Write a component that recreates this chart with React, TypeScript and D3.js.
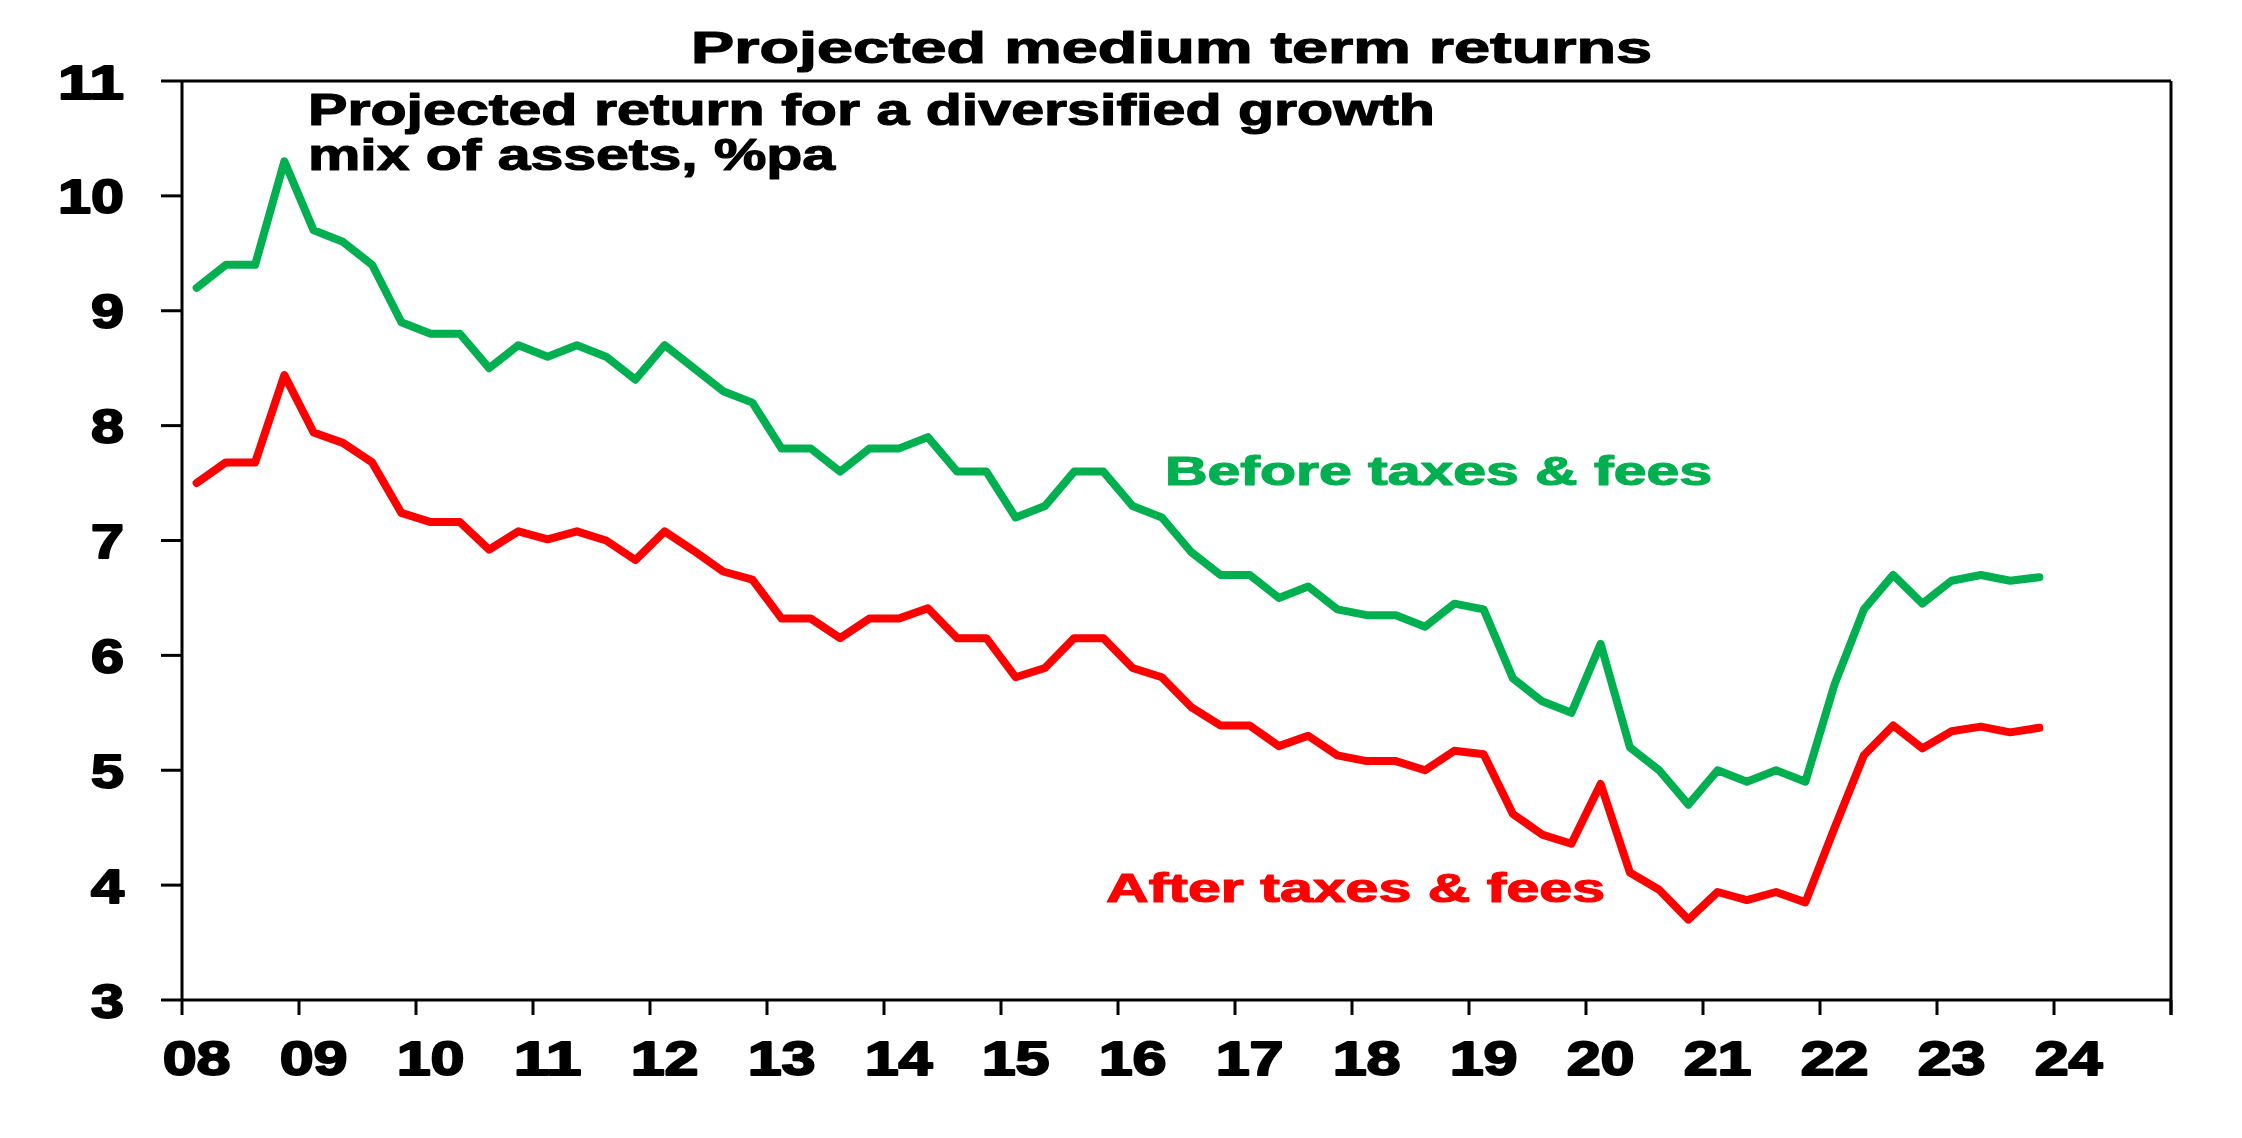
import React from "react";
import * as d3 from "d3";

const WIDTH = 2242;
const HEIGHT = 1138;

// Years shown on the category axis (4 quarters each; 2024 has no data yet)
const years = ["08", "09", "10", "11", "12", "13", "14", "15", "16", "17", "18", "19", "20", "21", "22", "23", "24"];
const quarterNames = ["Mar", "Jun", "Sep", "Dec"];
const categories: string[] = years.flatMap((y) => quarterNames.map((q) => `${q}-${y}`));

const beforeTaxes = [
  9.2, 9.4, 9.4, 10.3, 9.7, 9.6, 9.4, 8.9, 8.8, 8.8,
  8.5, 8.7, 8.6, 8.7, 8.6, 8.4, 8.7, 8.5, 8.3, 8.2,
  7.8, 7.8, 7.6, 7.8, 7.8, 7.9, 7.6, 7.6, 7.2, 7.3,
  7.6, 7.6, 7.3, 7.2, 6.9, 6.7, 6.7, 6.5, 6.6, 6.4,
  6.35, 6.35, 6.25, 6.45, 6.4, 5.8, 5.6, 5.5, 6.1, 5.2,
  5.0, 4.7, 5.0, 4.9, 5.0, 4.9, 5.75, 6.4, 6.7, 6.45,
  6.65, 6.7, 6.65, 6.68,
];

const afterTaxes = [
  7.5, 7.68, 7.68, 8.44, 7.94, 7.85, 7.68, 7.24, 7.16, 7.16,
  6.92, 7.08, 7.01, 7.08, 7.0, 6.83, 7.08, 6.91, 6.73, 6.66,
  6.32, 6.32, 6.15, 6.32, 6.32, 6.41, 6.15, 6.15, 5.81, 5.89,
  6.15, 6.15, 5.89, 5.81, 5.55, 5.39, 5.39, 5.21, 5.3, 5.13,
  5.08, 5.08, 5.0, 5.17, 5.14, 4.62, 4.44, 4.36, 4.88, 4.11,
  3.96, 3.7, 3.94, 3.87, 3.94, 3.85, 4.5, 5.13, 5.39, 5.19,
  5.34, 5.38, 5.33, 5.37,
];

const yTicks = [3, 4, 5, 6, 7, 8, 9, 10, 11];

const TITLE = "Projected medium term returns";
const SUBTITLE_1 = "Projected return for a diversified growth";
const SUBTITLE_2 = "mix of assets, %pa";
const LABEL_BEFORE = "Before taxes & fees";
const LABEL_AFTER = "After taxes & fees";

const GREEN = "#00B050";
const RED = "#FF0000";
const FONT = "'Liberation Sans', Arial, Helvetica, sans-serif";

const M = { left: 182, right: 2171, top: 81, bottom: 1000 };

function StretchText(props: {
  x: number; y: number; w: number; size: number; fill?: string; heavy?: number; children: string;
}) {
  const { x, y, w, size, fill = "#000", heavy = 1.2, children } = props;
  return (
    <text
      x={x}
      y={y}
      textLength={w}
      lengthAdjust="spacingAndGlyphs"
      fontFamily={FONT}
      fontWeight="bold"
      fontSize={size}
      fill={fill}
      stroke={fill}
      strokeWidth={heavy}
      strokeLinejoin="round"
    >
      {children}
    </text>
  );
}

export default function App() {
  const x = d3
    .scaleBand<number>()
    .domain(d3.range(categories.length))
    .range([M.left, M.right])
    .paddingInner(0)
    .paddingOuter(0);
  const bw = x.bandwidth();
  const cx = (i: number) => (x(i) as number) + bw / 2;

  const y = d3.scaleLinear().domain([3, 11]).range([M.bottom, M.top]);

  const line = d3
    .line<number>()
    .x((_, i) => cx(i))
    .y((d) => y(d));

  const tickBoundaries = d3.range(0, categories.length + 1, 4);

  return (
    <svg
      width={WIDTH}
      height={HEIGHT}
      viewBox={`0 0 ${WIDTH} ${HEIGHT}`}
      style={{ position: "absolute", left: 0, top: 0, background: "#fff" }}
    >
      <rect x={0} y={0} width={WIDTH} height={HEIGHT} fill="#fff" />

      {/* Title */}
      <StretchText x={691} y={63} w={961} size={44}>{TITLE}</StretchText>

      {/* Plot border (right) */}
      <line x1={M.right} x2={M.right} y1={M.top} y2={M.bottom + 15} stroke="#000" strokeWidth={3} />

      {/* Y axis */}
      <line x1={M.left} x2={M.left} y1={M.top} y2={M.bottom} stroke="#000" strokeWidth={3} />
      {yTicks.map((t) => (
        <g key={`yt${t}`}>
          <line
            x1={M.left - 21}
            x2={t === 11 || t === 3 ? M.right : M.left}
            y1={y(t)}
            y2={y(t)}
            stroke="#000"
            strokeWidth={3}
          />
          <StretchText
            x={124 - (String(t).length === 2 ? 66 : 33)}
            y={y(t) + 17.5}
            w={String(t).length === 2 ? 66 : 33}
            size={49}
            heavy={2}
          >
            {String(t)}
          </StretchText>
        </g>
      ))}

      {/* X axis ticks */}
      {tickBoundaries.map((b) => {
        const px = b < categories.length ? (x(b) as number) : M.right;
        return (
          <line key={`xt${b}`} x1={px} x2={px} y1={M.bottom} y2={M.bottom + 15} stroke="#000" strokeWidth={3} />
        );
      })}
      {years.map((yr, k) => (
        <StretchText key={`xl${yr}`} x={cx(k * 4) - 34} y={1075} w={68} size={49} heavy={2}>
          {yr}
        </StretchText>
      ))}

      {/* Subtitle */}
      <StretchText x={308} y={125} w={1127} size={44}>{SUBTITLE_1}</StretchText>
      <StretchText x={308} y={170} w={527} size={44}>{SUBTITLE_2}</StretchText>

      {/* Lines */}
      <path d={line(beforeTaxes) ?? ""} fill="none" stroke={GREEN} strokeWidth={8} strokeLinejoin="round" strokeLinecap="round" />
      <path d={line(afterTaxes) ?? ""} fill="none" stroke={RED} strokeWidth={8} strokeLinejoin="round" strokeLinecap="round" />

      {/* Series labels */}
      <StretchText x={1165} y={485} w={547} size={40} fill={GREEN}>{LABEL_BEFORE}</StretchText>
      <StretchText x={1106} y={902} w={499} size={40} fill={RED}>{LABEL_AFTER}</StretchText>
    </svg>
  );
}
